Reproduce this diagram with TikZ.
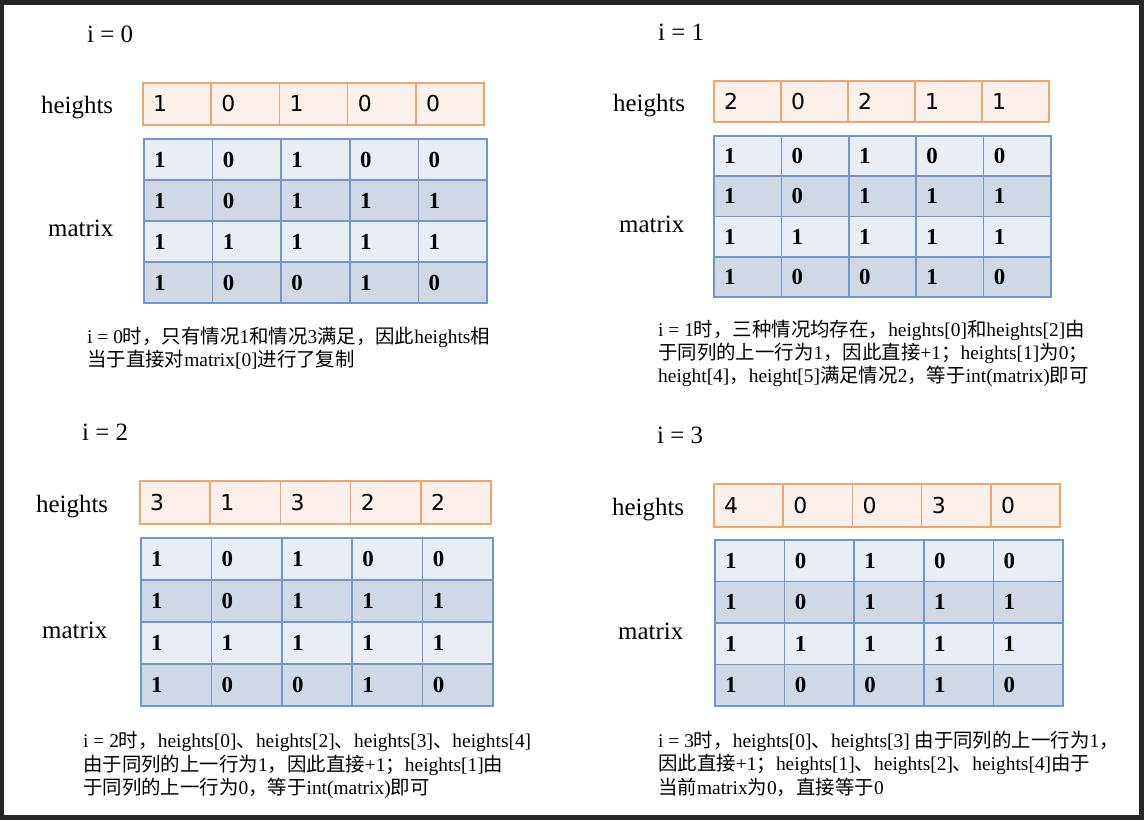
\documentclass[tikz,border=0pt]{standalone}
\usepackage{fontspec}
\setmainfont{Liberation Serif}
\newfontfamily\numfont{DejaVu Sans}
\newfontfamily\cjk{Noto Sans CJK SC}
\newfontfamily\capserif{Liberation Serif}

% switch to the CJK font for Chinese characters
\XeTeXinterchartokenstate=1
\newXeTeXintercharclass\CJKclass
\newcount\cjkcode
\cjkcode="4E00
\loop
  \XeTeXcharclass\cjkcode=\CJKclass
\ifnum\cjkcode<"9FFF \advance\cjkcode by 1 \repeat
\XeTeXcharclass"3001=\CJKclass
\XeTeXcharclass"FF0C=\CJKclass
\XeTeXcharclass"FF1B=\CJKclass
\XeTeXinterchartoks 0 \CJKclass = {\cjk}
\XeTeXinterchartoks 4095 \CJKclass = {\cjk}
\XeTeXinterchartoks \CJKclass 0 = {\capserif}
\XeTeXinterchartoks \CJKclass 4095 = {\capserif}

\definecolor{frame}{HTML}{262626}
\definecolor{hline}{HTML}{F1A56C}
\definecolor{hfill}{HTML}{FBF0EA}
\definecolor{mline}{HTML}{7096D0}
\definecolor{mfillA}{HTML}{E9EDF4}
\definecolor{mfillB}{HTML}{D0D8E6}

\tikzset{
  hcell/.style={draw=hline, fill=hfill, line width=1.6bp},
  mcell/.style={draw=mline, line width=1.6bp},
  mrow0/.style={mcell, fill=mfillA},
  mrow1/.style={mcell, fill=mfillB},
  mrow2/.style={mcell, fill=mfillA},
  mrow3/.style={mcell, fill=mfillB},
  hnum/.style={anchor=west, inner sep=0pt, font=\numfont\fontsize{22}{26}\selectfont},
  mnum/.style={anchor=west, inner sep=0pt, font=\bfseries\fontsize{23}{27}\selectfont},
  lbl/.style={anchor=base west, inner sep=0pt, font=\fontsize{25}{29}\selectfont},
  captext/.style={anchor=base west, inner sep=0pt, font=\fontsize{19.5}{23}\selectfont},
}

\begin{document}
\begin{tikzpicture}[x=1bp,y=-1bp]
%\draw[help lines] (0,0) grid (1144,820);
\useasboundingbox (0,0) rectangle (1144,820);

% dark frame round the page
\fill[frame] (0,0) rectangle (1144,820);
\fill[white] (4,5) rectangle (1139,815);

%%%%%%%%%%%%%%%%%%%%%%%%%%%%%%%%%%%%%%%%%%%%%%%%%%%%%%%%%%%%%%%%%%%%%%%%%%%%
% i = 0
\pgfmathsetmacro{\Xh}{143};
\pgfmathsetmacro{\Yh}{83};
\pgfmathsetmacro{\Wh}{68.2};
\pgfmathsetmacro{\Hh}{42};
\pgfmathsetmacro{\Xm}{144};
\pgfmathsetmacro{\Ym}{139};
\pgfmathsetmacro{\Wm}{68.6};
\pgfmathsetmacro{\Hm}{41};

\node[lbl] (iA) at (87,43) {i = 0};
\node[lbl] (heightsA) at (41,114) {heights};
\node[lbl] (matrixA) at (48,236) {matrix};

\foreach \v [count=\c from 0] in {1,0,1,0,0}{
  \draw[hcell] (\Xh+\c*\Wh,\Yh) rectangle ++(\Wh,\Hh);
  \node[hnum] (hA\c) at (\Xh+\c*\Wh+10,\Yh+0.5*\Hh) {\v};
}
\foreach \vals [count=\r from 0] in {{1,0,1,0,0},{1,0,1,1,1},{1,1,1,1,1},{1,0,0,1,0}}{
  \foreach \v [count=\c from 0] in \vals {
    \draw[mrow\r] (\Xm+\c*\Wm,\Ym+\r*\Hm) rectangle ++(\Wm,\Hm);
    \node[mnum] (mA\r\c) at (\Xm+\c*\Wm+10,\Ym+\r*\Hm+0.5*\Hm) {\v};
  }
}

\node[captext] (capA1) at (87,343) {i = 0时，只有情况1和情况3满足，因此heights相};
\node[captext] (capA2) at (87,366) {当于直接对matrix[0]进行了复制};

%%%%%%%%%%%%%%%%%%%%%%%%%%%%%%%%%%%%%%%%%%%%%%%%%%%%%%%%%%%%%%%%%%%%%%%%%%%%
% i = 1
\pgfmathsetmacro{\Xh}{714};
\pgfmathsetmacro{\Yh}{81};
\pgfmathsetmacro{\Wh}{67};
\pgfmathsetmacro{\Hh}{41};
\pgfmathsetmacro{\Xm}{714};
\pgfmathsetmacro{\Ym}{136};
\pgfmathsetmacro{\Wm}{67.4};
\pgfmathsetmacro{\Hm}{40.25};

\node[lbl] (iB) at (658,41) {i = 1};
\node[lbl] (heightsB) at (613,112) {heights};
\node[lbl] (matrixB) at (619,232) {matrix};

\foreach \v [count=\c from 0] in {2,0,2,1,1}{
  \draw[hcell] (\Xh+\c*\Wh,\Yh) rectangle ++(\Wh,\Hh);
  \node[hnum] (hB\c) at (\Xh+\c*\Wh+10,\Yh+0.5*\Hh) {\v};
}
\foreach \vals [count=\r from 0] in {{1,0,1,0,0},{1,0,1,1,1},{1,1,1,1,1},{1,0,0,1,0}}{
  \foreach \v [count=\c from 0] in \vals {
    \draw[mrow\r] (\Xm+\c*\Wm,\Ym+\r*\Hm) rectangle ++(\Wm,\Hm);
    \node[mnum] (mB\r\c) at (\Xm+\c*\Wm+10,\Ym+\r*\Hm+0.5*\Hm) {\v};
  }
}

\node[captext] (capB1) at (658,336) {i = 1时，三种情况均存在，heights[0]和heights[2]由};
\node[captext] (capB2) at (658,359) {于同列的上一行为1，因此直接+1；heights[1]为0；};
\node[captext] (capB3) at (658,382) {height[4]，height[5]满足情况2，等于int(matrix)即可};

%%%%%%%%%%%%%%%%%%%%%%%%%%%%%%%%%%%%%%%%%%%%%%%%%%%%%%%%%%%%%%%%%%%%%%%%%%%%
% i = 2
\pgfmathsetmacro{\Xh}{140};
\pgfmathsetmacro{\Yh}{481};
\pgfmathsetmacro{\Wh}{70.2};
\pgfmathsetmacro{\Hh}{43};
\pgfmathsetmacro{\Xm}{141};
\pgfmathsetmacro{\Ym}{538};
\pgfmathsetmacro{\Wm}{70.4};
\pgfmathsetmacro{\Hm}{42};

\node[lbl] (iC) at (82,440) {i = 2};
\node[lbl] (heightsC) at (36,512) {heights};
\node[lbl] (matrixC) at (42,638) {matrix};

\foreach \v [count=\c from 0] in {3,1,3,2,2}{
  \draw[hcell] (\Xh+\c*\Wh,\Yh) rectangle ++(\Wh,\Hh);
  \node[hnum] (hC\c) at (\Xh+\c*\Wh+10,\Yh+0.5*\Hh) {\v};
}
\foreach \vals [count=\r from 0] in {{1,0,1,0,0},{1,0,1,1,1},{1,1,1,1,1},{1,0,0,1,0}}{
  \foreach \v [count=\c from 0] in \vals {
    \draw[mrow\r] (\Xm+\c*\Wm,\Ym+\r*\Hm) rectangle ++(\Wm,\Hm);
    \node[mnum] (mC\r\c) at (\Xm+\c*\Wm+10,\Ym+\r*\Hm+0.5*\Hm) {\v};
  }
}

\node[captext] (capC1) at (83,747) {i = 2时，heights[0]、heights[2]、heights[3]、heights[4]};
\node[captext] (capC2) at (83,771) {由于同列的上一行为1，因此直接+1；heights[1]由};
\node[captext] (capC3) at (83,794) {于同列的上一行为0，等于int(matrix)即可};

%%%%%%%%%%%%%%%%%%%%%%%%%%%%%%%%%%%%%%%%%%%%%%%%%%%%%%%%%%%%%%%%%%%%%%%%%%%%
% i = 3
\pgfmathsetmacro{\Xh}{714};
\pgfmathsetmacro{\Yh}{484};
\pgfmathsetmacro{\Wh}{69.2};
\pgfmathsetmacro{\Hh}{43};
\pgfmathsetmacro{\Xm}{715};
\pgfmathsetmacro{\Ym}{540};
\pgfmathsetmacro{\Wm}{69.6};
\pgfmathsetmacro{\Hm}{41.5};

\node[lbl] (iD) at (657,443) {i = 3};
\node[lbl] (heightsD) at (612,515) {heights};
\node[lbl] (matrixD) at (618,639) {matrix};

\foreach \v [count=\c from 0] in {4,0,0,3,0}{
  \draw[hcell] (\Xh+\c*\Wh,\Yh) rectangle ++(\Wh,\Hh);
  \node[hnum] (hD\c) at (\Xh+\c*\Wh+10,\Yh+0.5*\Hh) {\v};
}
\foreach \vals [count=\r from 0] in {{1,0,1,0,0},{1,0,1,1,1},{1,1,1,1,1},{1,0,0,1,0}}{
  \foreach \v [count=\c from 0] in \vals {
    \draw[mrow\r] (\Xm+\c*\Wm,\Ym+\r*\Hm) rectangle ++(\Wm,\Hm);
    \node[mnum] (mD\r\c) at (\Xm+\c*\Wm+10,\Ym+\r*\Hm+0.5*\Hm) {\v};
  }
}

\node[captext] (capD1) at (658,747) {i = 3时，heights[0]、heights[3] 由于同列的上一行为1，};
\node[captext] (capD2) at (658,770) {因此直接+1；heights[1]、heights[2]、heights[4]由于};
\node[captext] (capD3) at (658,794) {当前matrix为0，直接等于0};
\end{tikzpicture}
\end{document}
